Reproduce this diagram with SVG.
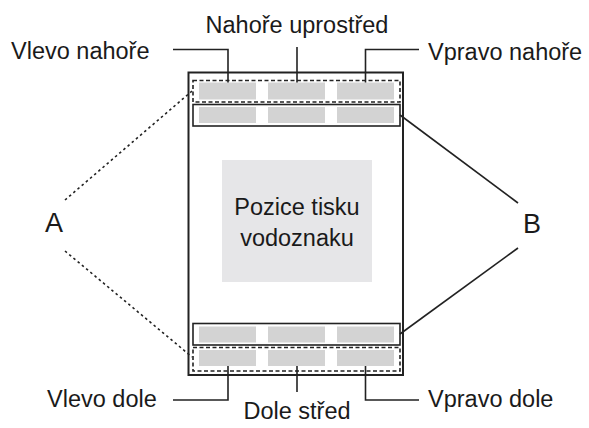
<svg xmlns="http://www.w3.org/2000/svg" width="589" height="428" viewBox="0 0 589 428">
<style>
text{font-family:"Liberation Sans",Arial,sans-serif;fill:#1a1a1a;font-size:23.5px}
.big{font-size:27px}
.ln{stroke:#222;stroke-width:1.6;fill:none}
.dot{stroke:#222;stroke-width:1.6;fill:none;stroke-dasharray:2.5 3}
.dash{stroke:#222;stroke-width:1.6;fill:none;stroke-dasharray:4 2.5}
.g{fill:#d3d3d3}
</style>
<rect width="589" height="428" fill="#fff"/>
<g id="page">
<rect x="188.5" y="72.5" width="214.5" height="302.5" fill="#fff" stroke="#222" stroke-width="2"/>
</g>
<g id="watermark">
<rect x="222" y="160" width="150" height="122" fill="#e6e6e8"/>
<text x="297" y="215" text-anchor="middle">Pozice tisku</text>
<text x="297" y="246" text-anchor="middle">vodoznaku</text>
</g>
<g id="top-a">
<rect class="dash" x="193" y="80.5" width="207" height="21.5"/>
<rect class="g" x="199" y="82.5" width="57" height="17"/>
<rect class="g" x="268" y="82.5" width="57" height="17"/>
<rect class="g" x="337" y="82.5" width="57" height="17"/>
</g>
<g id="top-b">
<rect class="ln" x="193" y="104.5" width="207" height="21.5"/>
<rect class="g" x="199" y="107" width="57" height="16"/>
<rect class="g" x="268" y="107" width="57" height="16"/>
<rect class="g" x="337" y="107" width="57" height="16"/>
</g>
<g id="bottom-b">
<rect class="ln" x="193" y="323.5" width="207" height="21.5"/>
<rect class="g" x="199" y="326.5" width="57" height="16"/>
<rect class="g" x="268" y="326.5" width="57" height="16"/>
<rect class="g" x="337" y="326.5" width="57" height="16"/>
</g>
<g id="bottom-a">
<rect class="dash" x="193" y="347.5" width="207" height="23.5"/>
<rect class="g" x="199" y="350" width="57" height="16"/>
<rect class="g" x="268" y="350" width="57" height="16"/>
<rect class="g" x="337" y="350" width="57" height="16"/>
</g>
<g id="labels">
<text x="11" y="59">Vlevo nahoře</text>
<text x="297" y="33" text-anchor="middle">Nahoře uprostřed</text>
<text x="428" y="60">Vpravo nahoře</text>
<text x="47" y="407">Vlevo dole</text>
<text x="297" y="419" text-anchor="middle">Dole střed</text>
<text x="428" y="407">Vpravo dole</text>
<text class="big" x="54" y="232" text-anchor="middle">A</text>
<text class="big" x="532" y="233" text-anchor="middle">B</text>
</g>
<g id="connectors">
<polyline class="ln" points="173,49.5 228,49.5 228,82.5"/>
<line class="ln" x1="297" y1="47" x2="297" y2="82.5"/>
<polyline class="ln" points="419,49.5 365.5,49.5 365.5,82.5"/>
<polyline class="ln" points="173,400 228,400 228,366"/>
<line class="ln" x1="297" y1="366" x2="297" y2="392"/>
<polyline class="ln" points="419,400 365.5,400 365.5,366"/>
<line class="dot" x1="65" y1="200" x2="192" y2="91"/>
<line class="dot" x1="65" y1="251" x2="192" y2="357"/>
<line class="ln" x1="400" y1="115" x2="518" y2="203"/>
<line class="ln" x1="518" y1="248" x2="400" y2="334"/>
</g>
</svg>
